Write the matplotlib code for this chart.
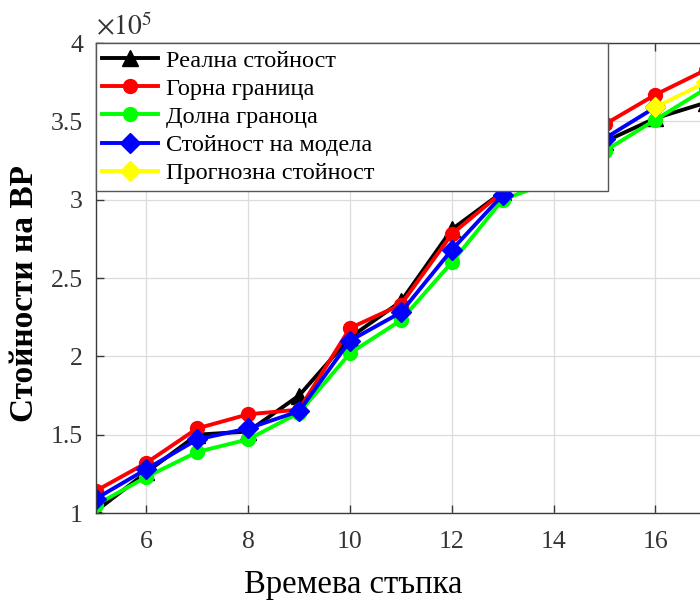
import matplotlib
matplotlib.use("Agg")
import matplotlib.pyplot as plt
from matplotlib.ticker import FuncFormatter

plt.rcParams['font.family'] = ['Liberation Serif', 'DejaVu Serif']
plt.rcParams['mathtext.fontset'] = 'stix'

# Data (values in units of 10^5)
steps = [5, 6, 7, 8, 9, 10, 11, 12, 13, 14, 15, 16, 17]
real_value = [1.01, 1.26, 1.50, 1.52, 1.75, 2.12, 2.35, 2.81, 3.05, 3.20, 3.37, 3.52, 3.62]
upper_bound = [1.14, 1.32, 1.54, 1.63, 1.66, 2.18, 2.33, 2.78, 3.05, 3.27, 3.48, 3.67, 3.83]
lower_bound = [1.05, 1.23, 1.39, 1.47, 1.64, 2.02, 2.23, 2.60, 3.00, 3.12, 3.31, 3.51, 3.71]
model_steps = [5, 6, 7, 8, 9, 10, 11, 12, 13, 14, 15, 16]
model_value = [1.09, 1.28, 1.47, 1.54, 1.65, 2.10, 2.28, 2.68, 3.03, 3.22, 3.39, 3.59]
forecast_steps = [16, 17]
forecast_value = [3.59, 3.75]

labels = ['Реална стойност', 'Горна граница', 'Долна граноца',
          'Стойност на модела', 'Прогнозна стойност']

W, H = 700, 603
fig = plt.figure(figsize=(W / 100, H / 100), dpi=100)
px_unit = 50.9
left_px, top_px, bot_px = 95.5, 43, 513
xmin, xmax = 5, 17.5
ax = fig.add_axes([left_px / W, 1 - bot_px / H, (xmax - xmin) * px_unit / W,
                   (bot_px - top_px) / H])

lw = 2.8
ax.plot(steps, real_value, color='black', marker='^', ms=11, lw=lw, label=labels[0])
ax.plot(steps, upper_bound, color='#ff0000', marker='o', ms=10, lw=lw, label=labels[1])
ax.plot(steps, lower_bound, color='#00ff00', marker='o', ms=10, lw=lw, label=labels[2])
ax.plot(model_steps, model_value, color='#0000ff', marker='D', ms=10, lw=lw, label=labels[3])
ax.plot(forecast_steps, forecast_value, color='#ffff00', marker='D', ms=10, lw=lw, label=labels[4])

ax.set_xlim(xmin, xmax)
ax.set_ylim(1, 4)
ax.set_xticks([6, 8, 10, 12, 14, 16])
ax.set_yticks([1, 1.5, 2, 2.5, 3, 3.5, 4])
ax.yaxis.set_major_formatter(FuncFormatter(lambda v, p: '%g' % v))
ax.grid(True, color='#dcdcdc', lw=0.9)
ax.set_axisbelow(True)
spine_c = '#3a3a3a'
for s in ax.spines.values():
    s.set_color(spine_c)
    s.set_linewidth(1.0)
ax.tick_params(direction='in', length=6, width=1, color=spine_c,
               labelsize=18.5, labelcolor='#333333', top=True, right=True)
ax.tick_params(axis='x', pad=13)
ax.tick_params(axis='y', pad=9)

ax.text(0.0, 1.003, r'$\times10^{5}$', transform=ax.transAxes, fontsize=20,
        color='#333333', ha='left', va='bottom')

fig.text(245 / W + (462 - 245) / 2 / W, 1 - 600 / H, 'Времева стъпка', fontsize=23.5,
         ha='center', va='bottom', color='black')
fig.text(25 / W, 1 - 293 / H, 'Стойности на ВР', fontsize=24, fontweight='bold',
         rotation=90, ha='center', va='center', color='black')

leg = ax.legend(loc='upper left', bbox_to_anchor=(left_px / W, 1 - top_px / H - 0.01,
                                                  (608 - left_px) / W, 0.01),
                bbox_transform=fig.transFigure, mode='expand', fontsize=17.5,
                labelspacing=0.25, handlelength=2.3, handletextpad=0.3,
                borderpad=0.28, borderaxespad=0, fancybox=False, framealpha=1,
                edgecolor='#555555')
leg.get_frame().set_linewidth(1.0)

fig.savefig('out.png', dpi=100)
